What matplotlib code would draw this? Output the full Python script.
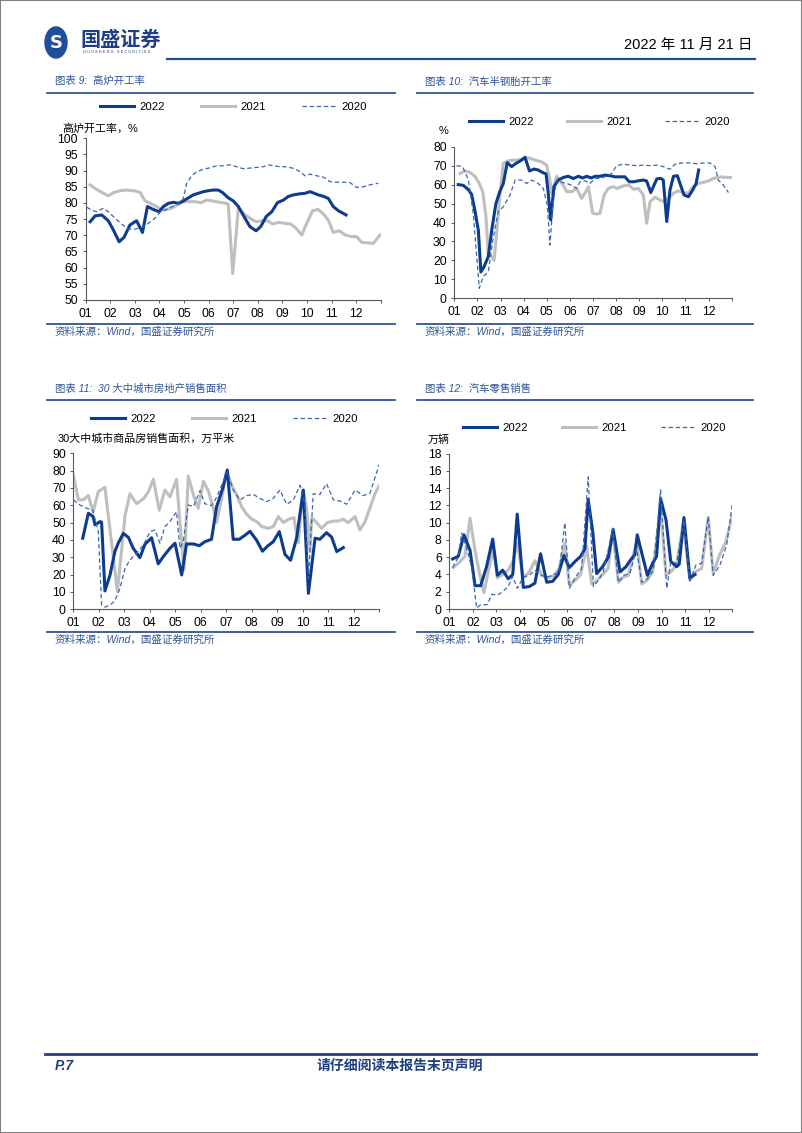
import matplotlib
matplotlib.use("Agg")
import matplotlib.pyplot as plt
from matplotlib.lines import Line2D
from matplotlib.patches import Circle, Rectangle

# Fuentes: latina primero, luego CJK para los caracteres chinos.
plt.rcParams["font.family"] = ["Liberation Sans", "Noto Sans CJK SC", "DejaVu Sans"]

ANCHO, ALTO = 802, 1133
AZUL = "#0D3C8E"
GRIS = "#BFBFBF"
AZUL_CLARO = "#3767B1"
AZUL_TEXTO = "#2F5597"
AZUL_LINEA = "#2E5597"

MESES = ["01", "02", "03", "04", "05", "06", "07", "08", "09", "10", "11", "12"]
ETIQUETAS = ["2022", "2021", "2020"]

# Grafico 9: 高炉开工率 (posicion en meses, valor)
alto_horno_2022_x = [0.18, 0.38, 0.65, 0.92, 1.13, 1.36, 1.56, 1.80, 2.07, 2.31, 2.51, 2.75, 2.98, 3.16, 3.36, 3.57,
                     3.77, 3.97, 4.18, 4.38, 4.58, 4.79, 4.99, 5.19, 5.40, 5.57, 5.80, 6.01, 6.21, 6.44, 6.68, 6.93,
                     7.12, 7.34, 7.57, 7.80, 8.04, 8.24, 8.45, 8.69, 8.92, 9.13, 9.23, 9.46, 9.69, 9.87, 10.07, 10.28, 10.59]
alto_horno_2022 = [74.2, 76, 76.3, 74.5, 71.6, 68, 69.4, 73.2, 74.5, 70.9, 78.9, 78, 77.3, 78.9, 79.9, 80.2,
                   79.9, 80.6, 81.6, 82.5, 83, 83.5, 83.8, 84, 84, 83.2, 81.6, 80.6, 78.9, 75.8, 72.7, 71.4,
                   72.7, 75.8, 77.3, 80.1, 80.9, 82, 82.5, 82.8, 83, 83.5, 83.2, 82.5, 82, 81.4, 78.9, 77.6, 76.3]
alto_horno_2021_x = [0.18, 0.38, 0.65, 0.92, 1.13, 1.40, 1.69, 2.01, 2.21, 2.41, 2.68, 2.89, 3.09, 3.29, 3.50, 3.73,
                     3.97, 4.22, 4.45, 4.68, 4.92, 5.19, 5.46, 5.71, 5.80, 5.98, 6.21, 6.44, 6.68, 6.93, 7.16, 7.39,
                     7.61, 7.84, 8.11, 8.34, 8.56, 8.79, 8.99, 9.23, 9.46, 9.67, 9.87, 10.07, 10.32, 10.55, 10.82,
                     11.02, 11.23, 11.43, 11.70, 11.97]
alto_horno_2021 = [85.6, 84.5, 83.3, 82.2, 83.2, 83.8, 84, 83.7, 83.3, 80.7, 79.7, 78.9, 77.8, 78, 78.4, 79.4,
                   80.4, 80.4, 80.4, 80.1, 80.9, 80.6, 80.2, 79.9, 79.6, 58.2, 78.4, 76.6, 75.3, 74.2, 74.5, 74.5,
                   73.5, 74, 73.7, 73.5, 72.2, 70.1, 73.7, 77.6, 78, 76.6, 74.7, 70.9, 71.4, 70.1, 69.6,
                   69.6, 67.8, 67.7, 67.5, 70.1]
alto_horno_2020_x = [0.04, 0.24, 0.45, 0.72, 0.92, 1.19, 1.46, 1.74, 2.01, 2.28, 2.55, 2.82, 3.02, 3.29, 3.57, 3.84,
                     3.97, 4.11, 4.31, 4.52, 4.79, 5.06, 5.33, 5.60, 5.87, 6.14, 6.41, 6.68, 6.95, 7.23, 7.43, 7.63,
                     7.90, 8.18, 8.45, 8.72, 8.92, 9.12, 9.40, 9.67, 9.94, 10.21, 10.48, 10.75, 11.02, 11.29, 11.56, 11.90]
alto_horno_2020 = [78.7, 77.8, 77.3, 78.4, 77.3, 75.3, 73.5, 71.9, 71.9, 72.5, 73.7, 75.3, 77.1, 78, 79.1, 80.1,
                   81.4, 86.1, 88.4, 89.7, 90.4, 90.9, 91.5, 91.5, 91.8, 91.2, 90.6, 90.8, 91, 91.2, 91.8, 91.5,
                   91.2, 91.2, 90.7, 89.7, 88.4, 88.9, 88.4, 88, 86.6, 86.4, 86.4, 86.3, 84.8, 85, 85.6, 86.1]

# Grafico 10: 汽车半钢胎开工率
neumaticos_2022_x = [0.17, 0.39, 0.61, 0.75, 0.89, 1.04, 1.15, 1.28, 1.47, 1.62, 1.80, 1.98, 2.12, 2.29, 2.48, 2.67,
                     2.87, 3.06, 3.25, 3.45, 3.63, 3.82, 3.97, 4.05, 4.17, 4.31, 4.50, 4.72, 4.93, 5.15, 5.37, 5.55,
                     5.73, 5.91, 6.10, 6.30, 6.52, 6.74, 6.95, 7.17, 7.38, 7.57, 7.77, 7.96, 8.18, 8.32, 8.50, 8.61,
                     8.76, 8.93, 9.04, 9.19, 9.33, 9.48, 9.65, 9.79, 9.94, 10.13, 10.31, 10.46, 10.57]
neumaticos_2022 = [60, 59.6, 57.3, 54.8, 46.4, 35.9, 13.9, 16.5, 22, 36, 50, 56.7, 60.6, 71.6, 69.5, 71.2,
                   72.6, 74.4, 67.2, 68.2, 67.7, 66.4, 65.6, 57.1, 41.3, 58.9, 62.4, 63.8, 64.4, 63.2, 64.4, 63.5,
                   64.4, 63.5, 64.4, 64.4, 65, 64.7, 64.1, 64.1, 64.1, 61.5, 61.5, 62, 62.4, 61.9, 55.8, 58.9,
                   63, 63.3, 62.4, 40.5, 57.1, 64.4, 64.7, 59.6, 54.5, 53.6, 57.1, 60.6, 67.7]
neumaticos_2021_x = [0.25, 0.46, 0.68, 0.89, 1.08, 1.23, 1.37, 1.47, 1.62, 1.72, 1.83, 1.98, 2.12, 2.34, 2.63, 2.91,
                     3.20, 3.49, 3.78, 3.99, 4.11, 4.21, 4.31, 4.43, 4.57, 4.72, 4.86, 5.08, 5.29, 5.51, 5.65, 5.80,
                     5.99, 6.16, 6.30, 6.48, 6.66, 6.88, 7.05, 7.31, 7.53, 7.77, 7.96, 8.18, 8.32, 8.47, 8.68, 8.90,
                     9.07, 9.26, 9.48, 9.69, 9.91, 10.13, 10.34, 10.56, 10.77, 10.99, 11.21, 11.50, 11.71, 11.96]
neumaticos_2021 = [65.9, 67.2, 66.4, 64.4, 60.6, 56.3, 43.1, 22.9, 22, 19.9, 34.3, 55.4, 71.2, 72.6, 72.9, 73.3,
                   74.2, 72.9, 72, 70.3, 64.1, 55.4, 58.9, 64.4, 62.4, 59.6, 56.3, 56.3, 58, 52.7, 55.4, 58.9,
                   44.8, 44.5, 44.8, 54.5, 58, 58.9, 58, 59.3, 59.8, 57.5, 58, 54.5, 39.6, 51, 53.3, 51.9,
                   51, 52.7, 55.4, 56.7, 55.6, 55.6, 58.9, 60.6, 61.2, 61.9, 63.3, 64.1, 63.8, 63.8]
neumaticos_2020_x = [0.10, 0.36, 0.61, 0.82, 0.97, 1.08, 1.25, 1.47, 1.69, 1.90, 2.12, 2.41, 2.63, 2.91, 3.13, 3.35,
                     3.63, 3.85, 4.02, 4.14, 4.26, 4.43, 4.64, 4.86, 5.08, 5.29, 5.44, 5.65, 5.87, 6.09, 6.30, 6.59,
                     6.81, 7.02, 7.31, 7.60, 7.89, 8.18, 8.47, 8.76, 9.04, 9.33, 9.55, 9.84, 10.20, 10.49, 10.77,
                     11.06, 11.28, 11.42, 11.64, 11.86]
neumaticos_2020 = [70, 69.5, 62.4, 44.8, 22, 5.3, 11.4, 13.9, 32.5, 45.7, 48.3, 54.5, 62.4, 62.4, 60.6, 62.4,
                   60.6, 58, 49.2, 28.1, 49.2, 62.4, 61.2, 60.6, 59.6, 58, 61.5, 62, 60.6, 63.3, 63.3, 64.4,
                   65.9, 70, 70.8, 70.3, 70, 70.3, 70, 70.3, 69.5, 68.1, 70.8, 71.4, 71.4, 71, 71.4,
                   71.4, 69.5, 62.4, 59.8, 55.8]

# Grafico 11: 30大中城市商品房销售面积
viviendas_2022_x = [0.37, 0.59, 0.78, 0.85, 1.05, 1.11, 1.24, 1.44, 1.63, 1.76, 1.96, 2.16, 2.35, 2.61, 2.81, 3.07,
                    3.33, 3.53, 3.79, 3.99, 4.25, 4.44, 4.71, 4.94, 5.16, 5.42, 5.62, 5.86, 6.04, 6.27, 6.51, 6.73,
                    6.93, 7.19, 7.42, 7.62, 7.84, 8.08, 8.30, 8.52, 8.76, 9.02, 9.22, 9.48, 9.67, 9.93, 10.13,
                    10.33, 10.59]
viviendas_2022 = [41, 55.4, 53.5, 48.7, 50.6, 50.2, 10.6, 19.8, 33.3, 38.1, 43.8, 41.5, 35.2, 29.8, 37.5, 41.3,
                  26.2, 30.4, 35.2, 38.1, 19.8, 37.7, 37.7, 36.7, 39, 40.4, 59.2, 69.8, 80.4, 40.4, 40.4, 42.7,
                  45, 39.8, 33.5, 36.5, 39, 44.8, 31.7, 28.3, 41.3, 68.8, 9.2, 41, 40.4, 44.2, 41.7,
                  33.3, 35.6]
viviendas_2021_x = [0.0, 0.20, 0.39, 0.59, 0.78, 0.98, 1.24, 1.73, 2.03, 2.22, 2.48, 2.75, 2.94, 3.14, 3.37, 3.59,
                    3.79, 4.05, 4.18, 4.34, 4.51, 4.71, 4.90, 5.10, 5.29, 5.49, 5.62, 5.82, 6.01, 6.21, 6.41, 6.60,
                    6.80, 6.99, 7.19, 7.39, 7.65, 7.84, 8.04, 8.24, 8.43, 8.65, 8.82, 9.02, 9.15, 9.28, 9.35, 9.54,
                    9.74, 9.96, 10.20, 10.39, 10.59, 10.78, 11.05, 11.24, 11.44, 11.63, 11.83, 12.0]
viviendas_2021 = [77.5, 63.1, 63.1, 65.6, 56.3, 67.9, 70.4, 10.2, 54.2, 66.7, 60.9, 63.8, 67.7, 75, 57.1, 68.8,
                  64.9, 75, 50.6, 22.7, 76.9, 65.9, 58.3, 73.8, 68.5, 58.3, 50, 64, 79.4, 71.7, 65.9, 59.2,
                  54.8, 52.1, 50.6, 47.7, 46.7, 47.7, 53.5, 50, 51.9, 52.9, 38.5, 68.5, 58.3, 33.3, 52.9, 50,
                  46.7, 50, 50.9, 50.9, 51.9, 50, 53.5, 45.8, 50.6, 58.3, 66.7, 71.5]
viviendas_2020_x = [0.0, 0.26, 0.52, 0.76, 0.98, 1.11, 1.24, 1.44, 1.63, 1.83, 2.03, 2.22, 2.48, 2.75, 3.01, 3.20,
                    3.40, 3.59, 3.79, 4.05, 4.18, 4.31, 4.51, 4.71, 4.97, 5.16, 5.42, 5.62, 5.82, 6.04, 6.27, 6.54,
                    6.80, 7.06, 7.32, 7.58, 7.84, 8.10, 8.37, 8.63, 8.89, 9.08, 9.22, 9.41, 9.67, 9.93, 10.20,
                    10.46, 10.72, 11.05, 11.37, 11.63, 12.0]
viviendas_2020 = [63.1, 60.2, 58.3, 57.3, 44.8, 2.5, 1.2, 2.5, 4.8, 12.1, 23.7, 28.5, 32.3, 37.1, 44.8, 45.8,
                  38.1, 47.7, 50.6, 56.3, 35.2, 39, 60.2, 59.2, 68.5, 60.9, 59.8, 64.6, 71.7, 79.4, 68.8, 63.1,
                  65.6, 66.3, 64, 62.1, 64, 68.8, 60.6, 63.1, 71.5, 60.9, 17.9, 66.7, 66.2, 72.5, 63.1,
                  62.5, 60.6, 68.8, 65.6, 66.9, 83.7]

# Grafico 12: 汽车零售销售
autos_2022_x = [0.14, 0.38, 0.62, 0.88, 1.09, 1.33, 1.58, 1.84, 2.04, 2.26, 2.50, 2.69, 2.88, 3.14, 3.39, 3.63,
                3.87, 4.13, 4.38, 4.62, 4.86, 5.09, 5.33, 5.57, 5.75, 5.89, 6.08, 6.25, 6.50, 6.74, 6.95, 7.24,
                7.49, 7.69, 7.87, 7.97, 8.16, 8.40, 8.62, 8.79, 8.96, 9.19, 9.39, 9.64, 9.75, 9.95, 10.20, 10.42]
autos_2022 = [5.8, 6.1, 8.6, 6.8, 2.7, 2.7, 4.9, 8.1, 3.9, 4.5, 3.5, 4, 11, 2.5, 2.6, 3,
              6.4, 3.1, 3.2, 4, 6.2, 4.8, 5.5, 6.1, 7, 12.7, 9, 4.1, 4.9, 6, 9.2, 4.3,
              4.9, 5.7, 6.3, 8.6, 6.5, 3.9, 5.3, 6.1, 12.8, 10.3, 5.5, 4.9, 5.2, 10.6, 3.6, 4]
autos_2021_x = [0.17, 0.42, 0.66, 0.88, 1.09, 1.30, 1.47, 1.65, 1.87, 2.04, 2.26, 2.50, 2.69, 2.88, 3.14, 3.39,
                3.63, 3.92, 4.16, 4.41, 4.66, 4.90, 5.09, 5.33, 5.57, 5.82, 6.04, 6.25, 6.50, 6.74, 6.93, 7.17,
                7.38, 7.59, 7.94, 8.16, 8.37, 8.62, 8.96, 9.19, 9.39, 9.64, 9.92, 10.20, 10.42, 10.70, 10.98,
                11.19, 11.45, 11.73, 12.0]
autos_2021 = [4.8, 5.4, 6.1, 10.5, 6.8, 3.9, 1.9, 4.3, 7, 3.6, 4, 4.5, 5.5, 7.6, 3.6, 4.3,
              5.6, 3.9, 3.6, 3.8, 4.7, 7.6, 2.8, 3.3, 4, 7.3, 2.9, 3.3, 4, 4.7, 9.3, 3.1,
              3.7, 3.9, 7.8, 2.9, 3.3, 4.3, 11.6, 3.9, 4.3, 5.1, 10, 3.3, 4.3, 4.7, 10.6,
              4.1, 6.2, 7.8, 10.9]
autos_2020_x = [0.14, 0.38, 0.52, 0.73, 0.95, 1.16, 1.33, 1.61, 1.80, 2.04, 2.26, 2.50, 2.69, 2.88, 3.14, 3.39,
                3.63, 3.92, 4.13, 4.38, 4.66, 4.90, 5.09, 5.33, 5.61, 5.89, 6.11, 6.32, 6.53, 6.93, 7.17, 7.38,
                7.66, 7.94, 8.16, 8.40, 8.65, 8.96, 9.22, 9.39, 9.64, 9.95, 10.20, 10.46, 10.70, 10.98, 11.19,
                11.48, 11.76, 12.0]
autos_2020 = [4.8, 6, 8.8, 7.1, 4.8, 0.1, 0.5, 0.5, 1.7, 1.6, 2, 2.6, 3.8, 2.4, 3.7, 3.9,
              4.5, 3.9, 3.7, 3.9, 4.3, 10, 2.4, 3.6, 4.7, 15.3, 2.6, 3.3, 4.3, 9.3, 3.1, 3.9,
              4.1, 7, 3.1, 3.5, 4.5, 13.8, 2.4, 5.5, 5.3, 10.3, 3.3, 5.1, 5.3, 10.7, 3.9,
              5.1, 7.4, 12.2]

fig = plt.figure(figsize=(ANCHO / 100, ALTO / 100), dpi=100)


def fx(x):
    return x / ANCHO


def fy(y):
    return 1 - y / ALTO


def linea(x0, x1, y, color, lw):
    fig.add_artist(Line2D([fx(x0), fx(x1)], [fy(y), fy(y)], color=color, lw=lw))


def dibujar_panel(caja, titulo, pos_titulo, lineas_marco, etiqueta_y, pos_etiqueta, limite, paso,
                  series, pos_leyenda, separacion):
    x0, y0, x1, y1 = caja
    ax = fig.add_axes([fx(x0), fy(y1), fx(x1 - x0), (y1 - y0) / ALTO])

    # Titulo del grafico, linea superior y fuente
    fig.text(fx(pos_titulo[0]), fy(pos_titulo[1]), titulo, color=AZUL_TEXTO, fontsize=7.5,
             style="italic", va="center")
    lx0, lx1, y_sup, y_inf = lineas_marco
    linea(lx0, lx1, y_sup, AZUL_LINEA, 1.3)
    linea(lx0, lx1, y_inf, AZUL_LINEA, 1.3)
    fig.text(fx(pos_titulo[0]), fy(y_inf + 7.5), "资料来源：Wind，国盛证券研究所", color=AZUL_TEXTO,
             fontsize=7.6, style="italic", va="center")
    fig.text(fx(pos_etiqueta[0]), fy(pos_etiqueta[1]), etiqueta_y, fontsize=7.9, va="center")

    manijas = []
    for x, y, color, lw, ls, z in series:
        (l,) = ax.plot(x, y, color=color, lw=lw, ls=ls, zorder=z, solid_joinstyle="round")
        manijas.append(l)

    ax.set_xlim(0, 12)
    ax.set_ylim(limite)
    ax.set_xticks(range(13))
    ax.set_xticklabels(MESES + [""])
    ax.set_yticks(range(limite[0], limite[1] + 1, paso))
    for lado in ["top", "right"]:
        ax.spines[lado].set_visible(False)
    for lado in ["left", "bottom"]:
        ax.spines[lado].set_color("#595959")
        ax.spines[lado].set_linewidth(0.8)
    ax.tick_params(length=2.5, width=0.7, color="#595959", labelsize=8.8, pad=3)
    ax.patch.set_alpha(0)

    ax.legend(manijas, ETIQUETAS, loc="center left", bbox_to_anchor=(fx(pos_leyenda[0]), fy(pos_leyenda[1])),
              bbox_transform=fig.transFigure, ncol=3, frameon=False, fontsize=8.2, handlelength=3.0,
              handletextpad=0.45, columnspacing=separacion, borderpad=0, borderaxespad=0)
    return ax


def estilo(x, y, anio):
    if anio == 2022:
        return (x, y, AZUL, 2.2, "-", 4)
    if anio == 2021:
        return (x, y, GRIS, 2.2, "-", 2)
    return (x, y, AZUL_CLARO, 0.9, (0, (3.5, 2.2)), 5)


dibujar_panel((85.7, 138.3, 380.7, 300), "图表 9:  高炉开工率", (55, 81), (47, 395, 93, 324),
              "高炉开工率，%", (62, 128), (50, 100), 5,
              [estilo(alto_horno_2022_x, alto_horno_2022, 2022),
               estilo(alto_horno_2021_x, alto_horno_2021, 2021),
               estilo(alto_horno_2020_x, alto_horno_2020, 2020)],
              (100, 106.7), 3.2)

dibujar_panel((454.3, 146.7, 731.7, 298.3), "图表 10:  汽车半钢胎开工率", (425, 81.5), (417, 753, 93, 324),
              "%", (439, 131), (0, 80), 10,
              [estilo(neumaticos_2022_x, neumaticos_2022, 2022),
               estilo(neumaticos_2021_x, neumaticos_2021, 2021),
               estilo(neumaticos_2020_x, neumaticos_2020, 2020)],
              (469, 122.3), 2.9)

dibujar_panel((73.3, 453.3, 379.3, 609.3), "图表 11:  30 大中城市房地产销售面积", (55, 389), (47, 395, 400, 632),
              "30大中城市商品房销售面积，万平米", (58, 438), (0, 90), 10,
              [estilo(viviendas_2022_x, viviendas_2022, 2022),
               estilo(viviendas_2021_x, viviendas_2021, 2021),
               estilo(viviendas_2020_x, viviendas_2020, 2020)],
              (91, 419.3), 3.2)

dibujar_panel((449.3, 453.7, 732.3, 609), "图表 12:  汽车零售销售", (425, 389), (417, 753, 400, 632),
              "万辆", (428, 440), (0, 18), 2,
              [estilo(autos_2022_x, autos_2022, 2022),
               estilo(autos_2021_x, autos_2021, 2021),
               estilo(autos_2020_x, autos_2020, 2020)],
              (463, 428.3), 3.0)

# Encabezado: logo, fecha y linea
fig.add_artist(Circle((fx(56), fy(42.5)), 11 / ANCHO, color="#1F4E9A", transform=fig.transFigure))
fig.text(fx(56), fy(43), "S", color="white", fontsize=13, fontweight="bold", ha="center", va="center",
         family=["DejaVu Sans"])
fig.text(fx(80), fy(40), "国盛证券", color="#1F3F84", fontsize=14.5, fontweight="bold", va="center")
fig.text(fx(83), fy(52), "G U O S H E N G   S E C U R I T I E S", color="#1F3F84", fontsize=2.8, va="center")
fig.text(fx(753), fy(45), "2022 年 11 月 21 日", fontsize=10.5, ha="right", va="center")
linea(167, 755, 59, "#1F4E9A", 1.6)

# Pie de pagina
linea(45, 756, 1054, "#1F3F84", 2.0)
fig.text(fx(55), fy(1066), "P.7", color="#1F3F84", fontsize=10, fontweight="bold", style="italic", va="center")
fig.text(fx(400), fy(1066), "请仔细阅读本报告末页声明", color="#1F3F84", fontsize=10, fontweight="bold",
         style="italic", ha="center", va="center")

# Borde gris de la pagina
fig.add_artist(Rectangle((0, 0), 1, 1, fill=False, edgecolor="#808080", lw=1.5, transform=fig.transFigure))

fig.savefig("out.png", dpi=100)
